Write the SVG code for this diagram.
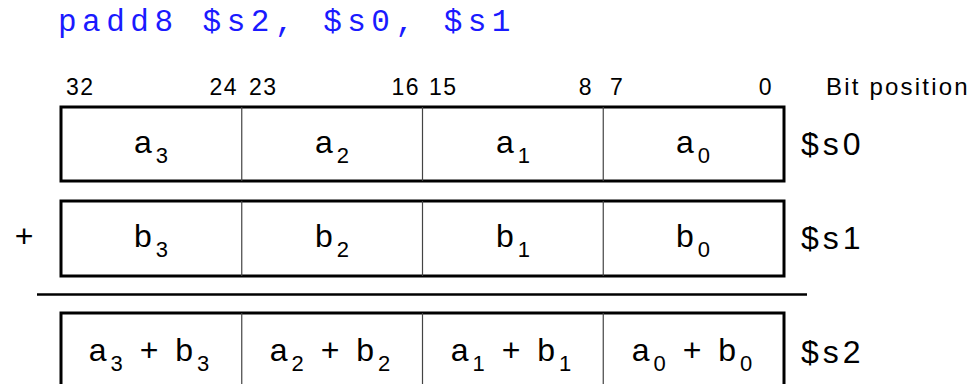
<svg xmlns="http://www.w3.org/2000/svg" width="973" height="384" viewBox="0 0 973 384">
<style>
.title{font-family:"Liberation Mono","Courier New",monospace;font-size:31px;letter-spacing:5.5px;fill:#1a1aff}
.bit{font-family:"Liberation Sans",Arial,sans-serif;font-size:23px;letter-spacing:1.5px;fill:#000}
.bp{font-family:"Liberation Sans",Arial,sans-serif;font-size:24px;letter-spacing:2.2px;fill:#000}
.lbl{font-family:"Liberation Sans",Arial,sans-serif;font-size:32px;letter-spacing:4px;fill:#000}
.cell{font-family:"Liberation Sans",Arial,sans-serif;font-size:32px;letter-spacing:4px;fill:#000;text-anchor:middle}
.sub{font-size:22px}
.frame{fill:#fff;stroke:#000;stroke-width:3}
.div{stroke:#444;stroke-width:1.2;fill:none}
.rule{stroke:#000;stroke-width:2.6}
</style>
<rect width="973" height="384" fill="#fff"/>
<text class="title" x="58" y="31">padd8 $s2, $s0, $s1</text>

<g id="bit-positions">
<text class="bit" x="66" y="95">32</text>
<text class="bit" x="238" y="95" text-anchor="end">24</text>
<text class="bit" x="249" y="95">23</text>
<text class="bit" x="420" y="95" text-anchor="end">16</text>
<text class="bit" x="429" y="95">15</text>
<text class="bit" x="593" y="95" text-anchor="end">8</text>
<text class="bit" x="610" y="95">7</text>
<text class="bit" x="773" y="95" text-anchor="end">0</text>
<text class="bp" x="826" y="95">Bit position</text>
</g>

<g id="reg-s0">
<rect class="frame" x="61" y="107" width="723" height="74"/>
<path class="div" d="M241.75 107V181M422.5 107V181M603.25 107V181"/>
<text class="cell" x="153" y="153">a<tspan class="sub" dy="10">3</tspan></text>
<text class="cell" x="334" y="153">a<tspan class="sub" dy="10">2</tspan></text>
<text class="cell" x="515" y="153">a<tspan class="sub" dy="10">1</tspan></text>
<text class="cell" x="695" y="153">a<tspan class="sub" dy="10">0</tspan></text>
<text class="lbl" x="801" y="155">$s0</text>
</g>

<g id="plus-sign">
<text class="lbl" x="24" y="247" text-anchor="middle" style="letter-spacing:0">+</text>
</g>

<g id="reg-s1">
<rect class="frame" x="61" y="201" width="723" height="75"/>
<path class="div" d="M241.75 201V276M422.5 201V276M603.25 201V276"/>
<text class="cell" x="153" y="247">b<tspan class="sub" dy="10">3</tspan></text>
<text class="cell" x="334" y="247">b<tspan class="sub" dy="10">2</tspan></text>
<text class="cell" x="515" y="247">b<tspan class="sub" dy="10">1</tspan></text>
<text class="cell" x="695" y="247">b<tspan class="sub" dy="10">0</tspan></text>
<text class="lbl" x="801" y="249">$s1</text>
</g>

<g id="connectors">
<line class="rule" x1="37" y1="294.5" x2="807" y2="294.5"/>
</g>

<g id="reg-s2">
<rect class="frame" x="61" y="313" width="723" height="78"/>
<path class="div" d="M241.75 313V391M422.5 313V391M603.25 313V391"/>
<text class="cell" x="151" y="361">a<tspan class="sub" dy="10">3</tspan><tspan dy="-10"> + b</tspan><tspan class="sub" dy="10">3</tspan></text>
<text class="cell" x="332" y="361">a<tspan class="sub" dy="10">2</tspan><tspan dy="-10"> + b</tspan><tspan class="sub" dy="10">2</tspan></text>
<text class="cell" x="513" y="361">a<tspan class="sub" dy="10">1</tspan><tspan dy="-10"> + b</tspan><tspan class="sub" dy="10">1</tspan></text>
<text class="cell" x="694" y="361">a<tspan class="sub" dy="10">0</tspan><tspan dy="-10"> + b</tspan><tspan class="sub" dy="10">0</tspan></text>
<text class="lbl" x="801" y="363">$s2</text>
</g>
</svg>
